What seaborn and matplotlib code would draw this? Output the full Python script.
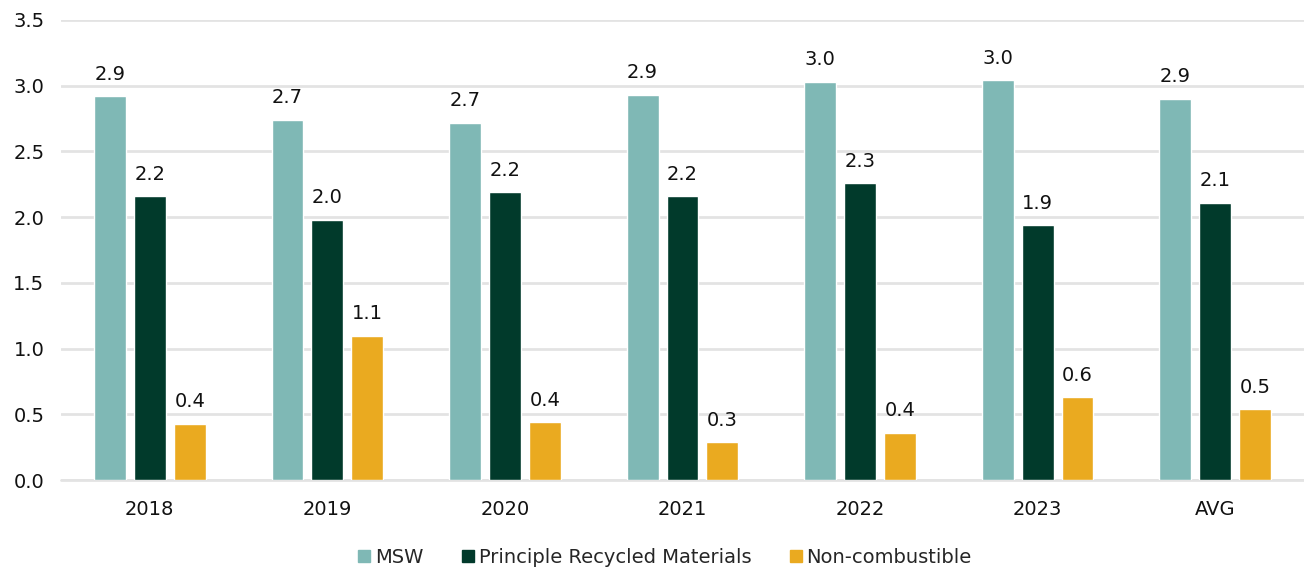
import seaborn as sns
import matplotlib.pyplot as plt
import pandas as pd

# values
categories = ['2018', '2019', '2020', '2021', '2022', '2023', 'AVG']
msw = [2.92, 2.74, 2.72, 2.93, 3.03, 3.04, 2.90]
recycled = [2.16, 1.98, 2.19, 2.16, 2.26, 1.94, 2.11]
non_combustible = [0.43, 1.10, 0.44, 0.29, 0.36, 0.63, 0.54]

series_names = ['MSW', 'Principle Recycled Materials', 'Non-combustible']
colors = ['#7FB8B5', '#013A2B', '#EAAA20']

df = pd.DataFrame({
    'year': categories * 3,
    'value': msw + recycled + non_combustible,
    'series': [s for s in series_names for _ in categories],
})

sns.set_theme(style='white')
plt.rcParams['font.family'] = ['DejaVu Sans']

fig = plt.figure(figsize=(13.04, 5.69), dpi=100)
ax = fig.add_axes([0.0468, 0.156, 0.9532, 0.809])

sns.barplot(data=df, x='year', y='value', hue='series', hue_order=series_names,
            palette=colors, width=0.674, gap=0.2, saturation=1, ax=ax, legend=False)

# value labels above every bar
for cont in ax.containers:
    ax.bar_label(cont, fmt='%.1f', padding=9, fontsize=14, color='#111111')

ax.set_ylim(0, 3.5)
ax.set_xlim(-0.5, 6.5)
ax.set_yticks([0, 0.5, 1.0, 1.5, 2.0, 2.5, 3.0, 3.5])
ax.set_yticklabels([f'{v:.1f}' for v in ax.get_yticks()])
ax.yaxis.grid(True, color='#E3E3E3', linewidth=2)
ax.axhline(0, color='#E3E3E3', linewidth=2, zorder=0.5, clip_on=False)
ax.set_axisbelow(True)
for sp in ax.spines.values():
    sp.set_visible(False)
ax.tick_params(axis='both', length=0, labelsize=14, colors='#111111')
ax.tick_params(axis='y', pad=12)
ax.tick_params(axis='x', pad=14)
ax.set_xlabel('')
ax.set_ylabel('')

handles = [plt.Rectangle((0, 0), 1, 1, color=c) for c in colors]
fig.legend(handles, series_names, loc='center', bbox_to_anchor=(0.51, 0.021),
           ncol=3, frameon=False, fontsize=14, handlelength=0.6, handleheight=0.6,
           handletextpad=0.25, columnspacing=2.0)

fig.savefig('out.png', dpi=100)
